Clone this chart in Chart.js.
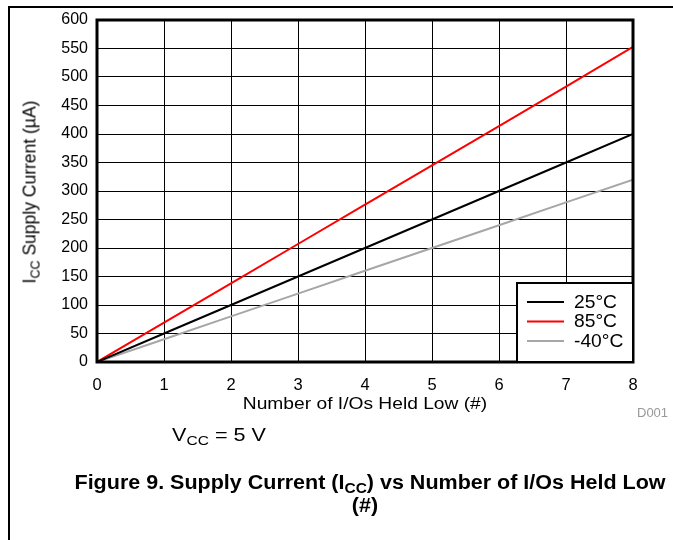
<!DOCTYPE html>
<html>
<head>
<meta charset="utf-8">
<script src="https://cdn.jsdelivr.net/npm/chart.js@4.4.0/dist/chart.umd.min.js"></script>
<style>
  html, body { margin: 0; padding: 0; background: #fff; }
  body { width: 673px; height: 540px; position: relative; overflow: hidden;
         font-family: "Liberation Sans", Arial, sans-serif; color: #000; }
  #c { position: absolute; left: 0; top: 0; }
  .frame-top  { position: absolute; left: 8px; top: 6px; width: 665px; height: 2px; background: #000; }
  .frame-left { position: absolute; left: 8px; top: 6px; width: 2px; height: 534px; background: #000; }
  .txt { position: absolute; white-space: nowrap; }
  sub { font-size: 0.72em; vertical-align: -0.3em; line-height: 0; }
  #ytitle { left: 30px; top: 192px; font-size: 17.5px; transform: translate(-50%, -50%) rotate(-90deg); }
  #xtitle { left: 365px; top: 395px; font-size: 16px; transform: translateX(-50%) scaleX(1.2); }
  #code   { left: 637px; top: 405px; font-size: 13px; color: #999; }
  #vcc    { left: 172px; top: 425px; font-size: 18px; transform-origin: 0 0; transform: scaleX(1.2); }
  #cap1, #cap2 { font-weight: bold; font-size: 20px; transform: translateX(-50%) scaleX(1.075); }
  #cap1 { left: 370px; top: 471px; }
  #cap2 { left: 365px; top: 494px; }
</style>
</head>
<body>
<div class="frame-top"></div>
<div class="frame-left"></div>
<canvas id="c" width="673" height="540"></canvas>
<div class="txt" id="ytitle">I<sub>CC</sub> Supply Current (µA)</div>
<div class="txt" id="xtitle">Number of I/Os Held Low (#)</div>
<div class="txt" id="code">D001</div>
<div class="txt" id="vcc">V<sub>CC</sub> = 5 V</div>
<div class="txt" id="cap1">Figure 9. Supply Current (I<sub>CC</sub>) vs Number of I/Os Held Low</div>
<div class="txt" id="cap2">(#)</div>
<script>
/* ---- data ---- */
const ioCount = [0, 1, 2, 3, 4, 5, 6, 7, 8];
const icc25   = [0, 50, 100, 150, 200, 250, 300, 350, 400];
const icc85   = [0, 69, 138, 207, 276, 345, 414, 483, 553];
const iccM40  = [0, 40, 80, 120, 160, 200, 240, 280, 320];
const seriesLabels = ['25°C', '85°C', '-40°C'];
const seriesColors = ['#000000', '#ff0000', '#a6a6a6'];

const toXY = vals => ioCount.map((x, i) => ({ x: x, y: vals[i] }));

/* frame around the plot area + legend box inside it */
const plotFrame = {
  id: 'plotFrame',
  afterDraw(chart) {
    const { ctx, chartArea: a } = chart;
    ctx.save();
    ctx.strokeStyle = '#000';
    ctx.lineWidth = 3;
    ctx.strokeRect(a.left, a.top, a.right - a.left, a.bottom - a.top);

    /* legend */
    const bx = 517, by = 283, bw = a.right - bx, bh = a.bottom - by;
    ctx.fillStyle = '#fff';
    ctx.fillRect(bx, by, bw, bh);
    ctx.lineWidth = 2;
    ctx.strokeRect(bx, by, bw, bh);
    ctx.font = '17.5px "Liberation Sans", Arial, sans-serif';
    ctx.textBaseline = 'middle';
    chart.data.datasets.forEach((ds, i) => {
      const y = 302 + i * 19.5;
      ctx.strokeStyle = ds.borderColor;
      ctx.lineWidth = 2;
      ctx.beginPath();
      ctx.moveTo(527, y);
      ctx.lineTo(564, y);
      ctx.stroke();
      ctx.fillStyle = '#000';
      ctx.save();
      ctx.translate(574, y + 1);
      ctx.scale(1.1, 1);
      ctx.fillText(ds.label, 0, 0);
      ctx.restore();
    });
    ctx.restore();
  }
};

new Chart(document.getElementById('c'), {
  type: 'line',
  data: {
    datasets: [
      { label: seriesLabels[0], data: toXY(icc25),  borderColor: seriesColors[0] },
      { label: seriesLabels[1], data: toXY(icc85),  borderColor: seriesColors[1] },
      { label: seriesLabels[2], data: toXY(iccM40), borderColor: seriesColors[2] },
    ].map(d => Object.assign(d, { borderWidth: 2, pointRadius: 0, tension: 0, fill: false })),
  },
  options: {
    responsive: false,
    animation: false,
    devicePixelRatio: 1,
    layout: { padding: { left: 0, top: 20, right: 40, bottom: 0 } },
    plugins: { legend: { display: false }, tooltip: { enabled: false } },
    scales: {
      x: {
        type: 'linear', min: 0, max: 8,
        afterFit: s => { s.height = 178; },
        ticks: { stepSize: 1, padding: 14, color: '#000',
                 font: { size: 16.5, family: '"Liberation Sans", Arial, sans-serif' } },
        grid: { color: '#000', lineWidth: 1, drawTicks: false },
        border: { display: false },
      },
      y: {
        min: 0, max: 600,
        afterFit: s => { s.width = 97; },
        ticks: { stepSize: 50, padding: 9, color: '#000',
                 font: { size: 16, family: '"Liberation Sans", Arial, sans-serif' } },
        grid: { color: '#000', lineWidth: 1, drawTicks: false },
        border: { display: false },
      },
    },
  },
  plugins: [plotFrame],
});
</script>
</body>
</html>
